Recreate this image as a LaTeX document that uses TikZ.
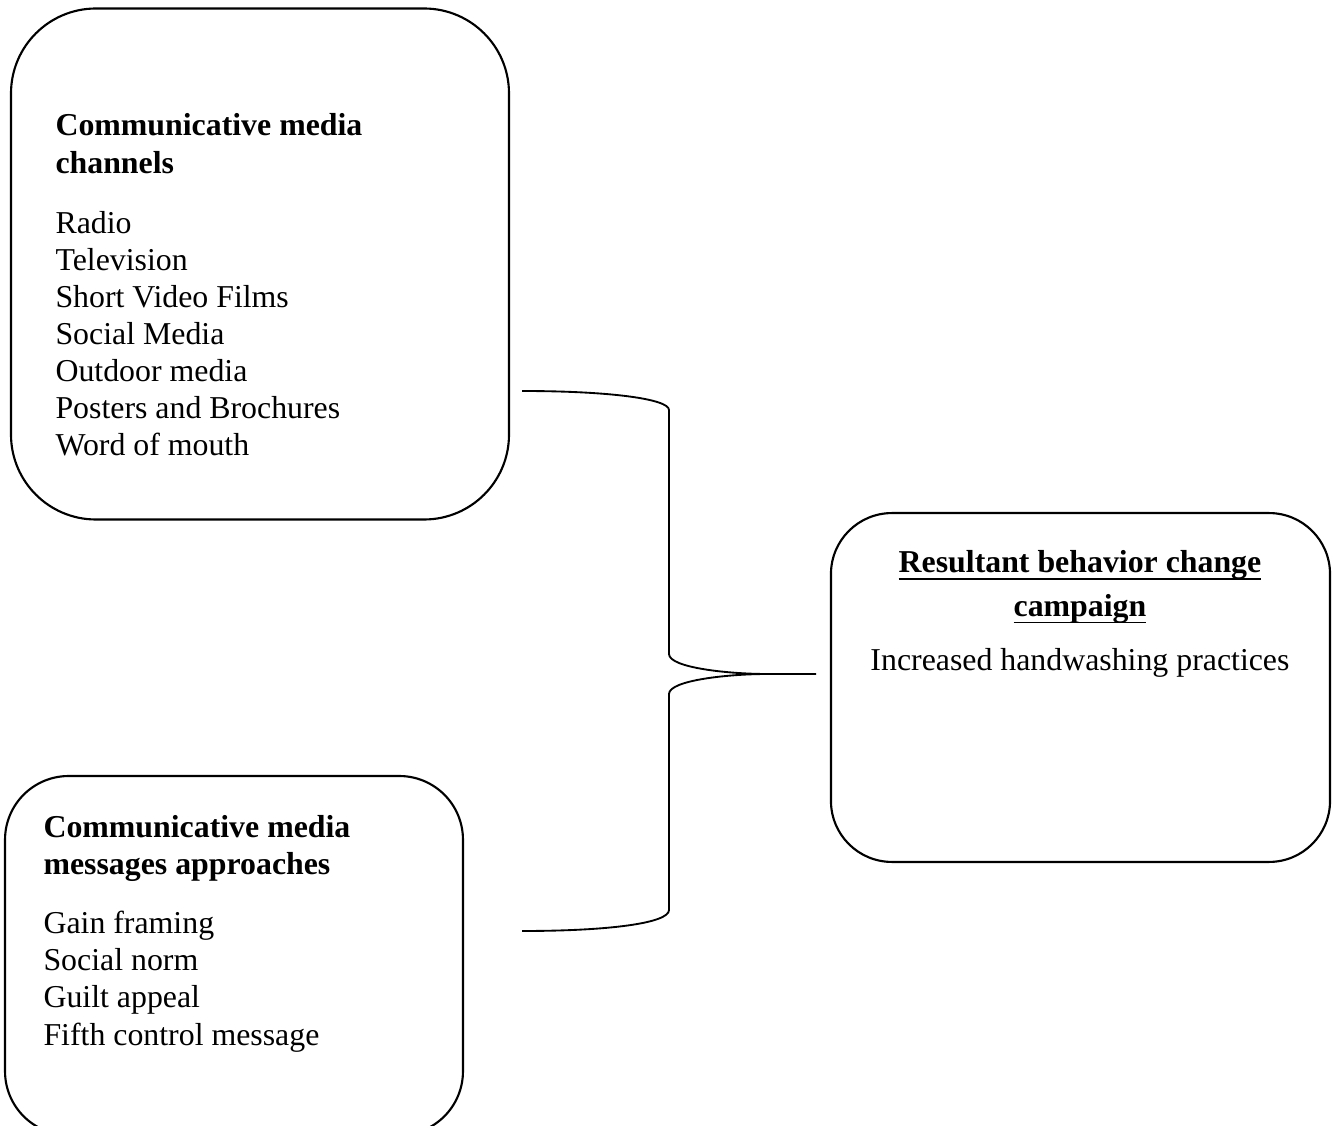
\documentclass[tikz,border=0pt]{standalone}
\usepackage{fontspec}
\setmainfont{Liberation Serif}
\newsavebox{\ulsave}
\newcommand{\ulword}[1]{\leavevmode\sbox{\ulsave}{#1}\rlap{\rule[-2.6pt]{\wd\ulsave}{0.7pt}}\usebox{\ulsave}}
\usetikzlibrary{positioning}

\begin{document}
\begin{tikzpicture}[x=0.3769pt,y=-0.3769pt,
	box/.style={shape=rectangle,draw,line width=0.8pt,rounded corners=#1},
	txt/.style={anchor=base west,inner sep=0pt,font=\fontsize{12}{14}\selectfont}]
	\useasboundingbox (0,0) rectangle (1336,1126);

	% the three boxes
	\node (channels) [box=32pt,minimum width=187.7pt,minimum height=192.6pt] at (260,264) {};
	\node (messages) [box=24pt,minimum width=172.6pt,minimum height=135.3pt] at (234,955.5) {};
	\node (result) [box=23pt,minimum width=188.1pt,minimum height=131.5pt] at (1080.5,687.5) {};

	\node (channels-text) [txt] at (55,136) {\parbox[t]{180pt}{\raggedright
		\textbf{Communicative media\\channels}\\[8.6pt]
		Radio\\
		Television\\
		Short Video Films\\
		Social Media\\
		Outdoor media\\
		Posters and Brochures\\
		Word of mouth}};
	\node (messages-text) [txt] at (43,837) {\parbox[t]{170pt}{\raggedright
		\textbf{Communicative media\\messages approaches}\\[8.4pt]
		Gain framing\\
		Social norm\\
		Guilt appeal\\
		Fifth control message}};
	\node (result-text) [txt,anchor=base] at (1080,573) {\parbox[t]{180pt}{\centering
		\textbf{\ulword{Resultant behavior change}\\[2.4pt]\ulword{campaign}}\\[6.4pt]
		Increased handwashing practices}};

	% brace joining the two left boxes to the result
	\coordinate (brace-top) at (522,391);
	\coordinate (brace-bot) at (522,931);
	\coordinate (brace-tip) at (767,674);
	\coordinate (brace-end) at (816,674);
	\draw[line width=0.7pt] (brace-top) .. controls (610,391) and (669,399) .. (669,410)
		-- (669,654) .. controls (669,668) and (730,674) .. (brace-tip) -- (brace-end);
	\draw[line width=0.7pt] (brace-bot) .. controls (610,931) and (669,923) .. (669,910)
		-- (669,694) .. controls (669,680) and (730,674) .. (brace-tip);
\end{tikzpicture}
\end{document}
